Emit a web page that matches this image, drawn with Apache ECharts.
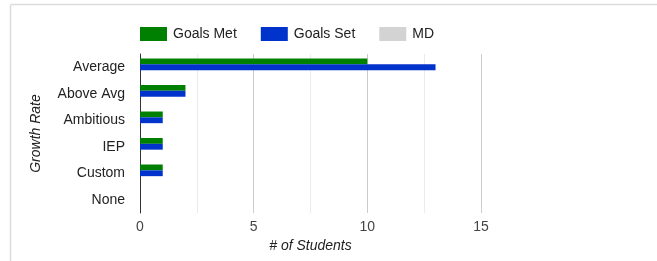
<!DOCTYPE html>
<html><head><meta charset="utf-8">
<script src="https://cdn.jsdelivr.net/npm/echarts@6/dist/echarts.min.js"></script>
<style>html,body{margin:0;padding:0;background:#fff}#c{width:657px;height:261px}</style>
</head><body><div id="c"></div>
<script>
const categories = ['Average','Above Avg','Ambitious','IEP','Custom','None'];
const goalsMet = [10,2,1,1,1,0];
const goalsSet = [13,2,1,1,1,0];
const md = [0,0,0,0,0,0];
const seriesNames = ['Goals Met','Goals Set','MD'];
const xTicks = [0,5,10,15];

const chart = echarts.init(document.getElementById('c'), null, {renderer:'canvas'});
const font = 'Arial, "Liberation Sans", sans-serif';
chart.setOption({
  animation:false,
  textStyle:{fontFamily:font},
  graphic:[
    {type:'line', shape:{x1:10.5,y1:4.5,x2:657,y2:4.5}, style:{stroke:'#dcdcdc',lineWidth:1.5}},
    {type:'line', shape:{x1:10.5,y1:4.5,x2:10.5,y2:261}, style:{stroke:'#dcdcdc',lineWidth:1.5}}
  ],
  legend:{
    left:135, top:22, itemWidth:27, itemHeight:14, itemGap:24,
    icon:'rect',
    textStyle:{fontSize:14,color:'#222',fontFamily:font,padding:[0,0,0,1]},
    data:seriesNames
  },
  grid:{left:140, right:176, top:54, bottom:48, containLabel:false},
  xAxis:{
    type:'value', min:0, max:15, interval:5,
    name:'# of Students', nameLocation:'middle', nameGap:25,
    nameTextStyle:{fontSize:14,color:'#222',fontStyle:'italic',fontFamily:font},
    axisLine:{show:false}, axisTick:{show:false},
    axisLabel:{fontSize:14,color:'#444',margin:7,fontFamily:font,
      formatter:v=>xTicks.includes(v)?String(v):''},
    splitLine:{show:true,lineStyle:{color:'#cccccc',width:1}},
    minorTick:{show:false, splitNumber:2},
    minorSplitLine:{show:true,lineStyle:{color:'#ebebeb',width:1}}
  },
  yAxis:{
    type:'category', data:categories, inverse:true,
    name:'Growth Rate', nameLocation:'middle', nameGap:97, nameRotate:90,
    nameTextStyle:{fontSize:14,color:'#222',fontStyle:'italic',fontFamily:font},
    axisLine:{show:true,lineStyle:{color:'#333',width:1}},
    axisTick:{show:false},
    axisLabel:{fontSize:14,color:'#222',margin:15,fontFamily:font},
    splitLine:{show:false}
  },
  series:[
    {name:seriesNames[0],type:'bar',data:goalsMet,itemStyle:{color:'#008000'},barGap:'0%',barCategoryGap:'34%'},
    {name:seriesNames[1],type:'bar',data:goalsSet,itemStyle:{color:'#0033cc'},barGap:'0%',barCategoryGap:'34%'},
    {name:seriesNames[2],type:'bar',data:md,itemStyle:{color:'#d3d3d3'},barGap:'0%',barCategoryGap:'34%'}
  ]
});
</script></body></html>
